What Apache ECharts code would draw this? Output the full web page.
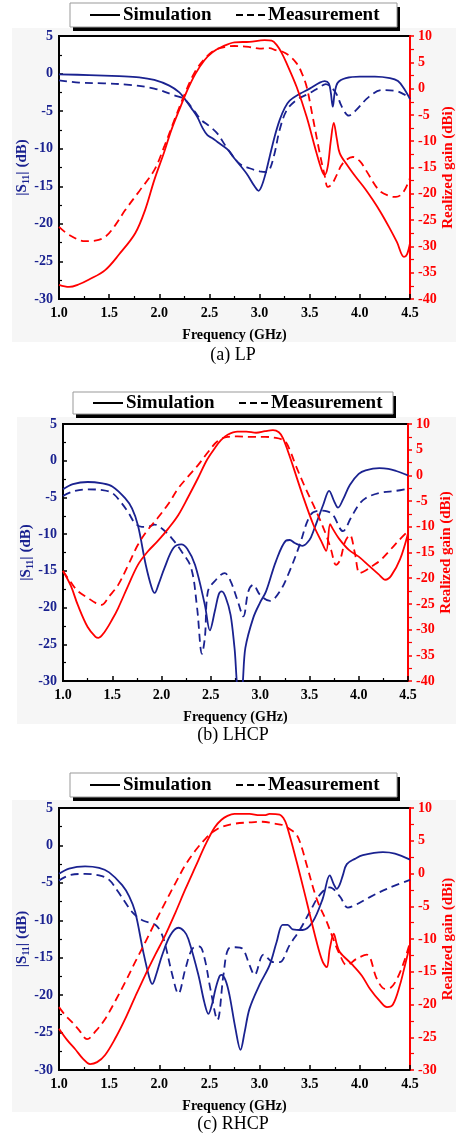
<!DOCTYPE html>
<html><head><meta charset="utf-8">
<script src="https://cdn.jsdelivr.net/npm/echarts@6/dist/echarts.min.js"></script>
<style>html,body{margin:0;padding:0;background:#fff}#c{width:456px;height:1137px}</style>
</head><body><div id="c"></div>
<script>
// ---------- data: [frequency GHz, value] ----------
const xTicks = [1.0,1.5,2.0,2.5,3.0,3.5,4.0,4.5];
const captions = ['(a) LP','(b) LHCP','(c) RHCP'];
const legendNames = ['Simulation','Measurement'];

// (a) LP
const aS11Sim = [[1.0,-0.1],[1.3,-0.2],[1.6,-0.35],[1.8,-0.5],[1.95,-0.85],[2.1,-1.6],[2.2,-2.5],[2.25,-3.3],[2.32,-4.6],[2.38,-5.8],[2.43,-7.2],[2.48,-8.2],[2.53,-8.6],[2.58,-9.1],[2.68,-10.1],[2.75,-11.3],[2.87,-13.3],[2.95,-15.0],[2.99,-15.6],[3.02,-15.0],[3.06,-13.3],[3.10,-11.1],[3.15,-8.4],[3.20,-6.2],[3.25,-4.6],[3.30,-3.6],[3.40,-2.7],[3.50,-2.0],[3.60,-1.2],[3.65,-1.0],[3.69,-1.3],[3.71,-2.5],[3.73,-4.4],[3.75,-2.5],[3.78,-1.2],[3.86,-0.6],[4.0,-0.4],[4.15,-0.4],[4.3,-0.6],[4.38,-1.0],[4.44,-2.0],[4.5,-3.4]];
const aS11Meas = [[1.0,-0.9],[1.2,-1.2],[1.45,-1.3],[1.7,-1.5],[1.95,-2.0],[2.15,-2.9],[2.25,-3.4],[2.35,-5.0],[2.42,-6.2],[2.5,-7.0],[2.58,-8.0],[2.67,-9.8],[2.8,-12.0],[2.9,-12.6],[3.0,-13.0],[3.07,-13.1],[3.10,-12.8],[3.15,-10.6],[3.20,-7.5],[3.27,-4.9],[3.37,-3.5],[3.50,-2.6],[3.60,-1.8],[3.66,-1.4],[3.72,-1.9],[3.77,-2.8],[3.82,-4.4],[3.89,-5.6],[3.96,-4.9],[4.09,-3.1],[4.22,-2.2],[4.36,-2.3],[4.43,-2.7],[4.5,-3.2]];
const aGainSim = [[1.0,-37.3],[1.1,-37.7],[1.2,-37.2],[1.3,-36.3],[1.46,-34.5],[1.6,-31.5],[1.76,-27.5],[1.86,-23],[1.95,-17.4],[2.05,-12],[2.12,-7.9],[2.2,-4.0],[2.28,-0.3],[2.36,2.8],[2.45,5.4],[2.53,6.9],[2.62,7.9],[2.75,8.8],[2.9,8.9],[3.05,9.2],[3.12,9.1],[3.17,8.3],[3.22,6.8],[3.27,4.8],[3.37,0.3],[3.47,-5.4],[3.56,-11.7],[3.62,-15.5],[3.65,-16.4],[3.68,-14.8],[3.71,-10],[3.74,-6.5],[3.77,-9.5],[3.80,-12.3],[3.88,-14.7],[3.96,-16.8],[4.05,-19.0],[4.13,-21.2],[4.21,-23.6],[4.29,-26.3],[4.37,-29.2],[4.44,-32.0],[4.47,-31.5],[4.5,-29.4]];
const aGainMeas = [[1.0,-26.3],[1.1,-27.8],[1.26,-29.0],[1.36,-28.9],[1.46,-28.2],[1.56,-26.0],[1.66,-23.1],[1.8,-19.5],[1.95,-15.5],[2.05,-11.0],[2.15,-6.0],[2.25,-1.2],[2.35,3.0],[2.45,5.6],[2.55,7.3],[2.65,7.9],[2.75,8.1],[2.9,7.9],[3.0,7.6],[3.1,7.7],[3.16,7.3],[3.23,7.0],[3.30,6.2],[3.37,4.8],[3.42,3.0],[3.47,0.3],[3.53,-5.4],[3.60,-12.3],[3.65,-16.6],[3.68,-18.7],[3.72,-18.2],[3.77,-16.4],[3.83,-14.2],[3.93,-13.0],[4.0,-13.8],[4.06,-15.5],[4.19,-19.3],[4.29,-20.4],[4.36,-20.6],[4.43,-19.8],[4.5,-17]];

// (b) LHCP
const bS11Sim = [[1.0,-3.9],[1.1,-3.2],[1.25,-2.9],[1.4,-3.1],[1.5,-3.5],[1.63,-5.1],[1.7,-6.5],[1.76,-8.8],[1.84,-14.2],[1.9,-17.3],[1.93,-18.0],[1.97,-16.8],[2.03,-14.6],[2.12,-11.9],[2.2,-11.4],[2.26,-12.0],[2.34,-14.2],[2.44,-19.7],[2.49,-23.1],[2.54,-20.5],[2.58,-18.2],[2.61,-17.8],[2.65,-18.6],[2.7,-21.0],[2.74,-25.5],[2.78,-31],[2.81,-31],[2.85,-25.5],[2.93,-21.4],[3.0,-19.3],[3.06,-17.8],[3.16,-13.7],[3.26,-10.9],[3.30,-10.8],[3.35,-11.2],[3.43,-11.6],[3.5,-10.8],[3.54,-9.6],[3.64,-6.0],[3.70,-4.1],[3.75,-5.5],[3.79,-6.4],[3.84,-5.3],[3.91,-3.3],[4.0,-1.8],[4.07,-1.3],[4.21,-1.0],[4.3,-1.1],[4.38,-1.4],[4.5,-2.0]];
const bS11Meas = [[1.0,-4.8],[1.1,-4.2],[1.25,-3.9],[1.4,-4.0],[1.5,-4.4],[1.59,-5.7],[1.66,-7.0],[1.73,-8.5],[1.8,-9.0],[1.86,-9.0],[1.93,-8.7],[2.0,-9.2],[2.1,-10.5],[2.2,-12.3],[2.3,-14.6],[2.36,-20],[2.41,-26.3],[2.44,-24],[2.47,-17.8],[2.54,-16.4],[2.64,-15.3],[2.70,-16.4],[2.77,-19.0],[2.83,-21.2],[2.88,-17.8],[2.93,-16.9],[3.0,-18.3],[3.1,-19.1],[3.2,-17.8],[3.3,-15.0],[3.4,-11.5],[3.51,-7.4],[3.61,-6.8],[3.68,-6.9],[3.74,-7.4],[3.84,-9.6],[3.92,-7.8],[4.0,-6.0],[4.07,-5.1],[4.21,-4.4],[4.38,-4.1],[4.5,-3.8]];
const bGainSim = [[1.0,-18.6],[1.08,-21.5],[1.15,-25.2],[1.25,-29.5],[1.33,-31.4],[1.36,-31.6],[1.42,-30.5],[1.5,-28],[1.56,-25.8],[1.66,-21.5],[1.76,-17.4],[1.86,-14.8],[1.96,-12.8],[2.07,-10.3],[2.17,-7.7],[2.27,-4.2],[2.37,-0.5],[2.46,3.0],[2.54,5.3],[2.6,6.8],[2.67,7.9],[2.77,8.5],[2.86,8.5],[2.96,8.3],[3.05,8.6],[3.13,8.8],[3.19,8.4],[3.23,7.3],[3.28,4.8],[3.33,2.0],[3.43,-3.8],[3.54,-9.6],[3.62,-12.8],[3.67,-14.7],[3.71,-9.5],[3.74,-10.5],[3.8,-12.3],[3.9,-14.5],[4.0,-15.8],[4.1,-17.5],[4.2,-19.2],[4.27,-20.3],[4.33,-19.5],[4.42,-16.3],[4.5,-11.3]];
const bGainMeas = [[1.0,-18.6],[1.08,-20.8],[1.15,-22.5],[1.25,-23.8],[1.33,-24.8],[1.39,-25.2],[1.47,-23.5],[1.56,-21.3],[1.66,-17.5],[1.76,-13.5],[1.86,-10.6],[1.96,-8.3],[2.07,-5.5],[2.17,-2.5],[2.27,-0.2],[2.37,2.0],[2.47,4.5],[2.57,6.7],[2.67,7.5],[2.77,7.6],[2.9,7.5],[3.05,7.5],[3.16,7.3],[3.22,7.0],[3.26,6.5],[3.31,4.5],[3.36,2.0],[3.46,-2.5],[3.57,-7.0],[3.67,-11.6],[3.72,-14.5],[3.77,-17.4],[3.81,-16.5],[3.86,-13],[3.91,-11.6],[3.96,-15],[4.01,-19.0],[4.07,-18.5],[4.14,-17.6],[4.22,-16.5],[4.31,-14.7],[4.4,-12.8],[4.5,-10.8]];

// (c) RHCP
const cS11Sim = [[1.0,-3.8],[1.1,-3.1],[1.26,-2.8],[1.4,-3.0],[1.5,-3.6],[1.63,-5.3],[1.7,-6.8],[1.76,-8.9],[1.84,-14.2],[1.9,-17.6],[1.93,-18.5],[1.97,-17.2],[2.03,-14.6],[2.11,-12.0],[2.19,-11.0],[2.25,-11.5],[2.29,-12.5],[2.39,-17.3],[2.45,-21.0],[2.49,-22.5],[2.53,-21],[2.56,-19.2],[2.6,-17.5],[2.62,-17.3],[2.66,-18],[2.7,-20],[2.76,-24.5],[2.81,-27.3],[2.85,-25.0],[2.9,-21.8],[3.0,-18.6],[3.1,-16.0],[3.17,-12.9],[3.23,-10.6],[3.28,-10.6],[3.33,-11.2],[3.43,-11.3],[3.53,-10.2],[3.63,-7.1],[3.70,-4.0],[3.74,-5.2],[3.77,-5.8],[3.80,-5.2],[3.83,-4.0],[3.87,-2.5],[3.95,-1.8],[4.03,-1.3],[4.23,-0.9],[4.35,-1.1],[4.5,-1.9]];
const cS11Meas = [[1.0,-4.7],[1.1,-4.0],[1.26,-3.8],[1.4,-4.0],[1.5,-4.6],[1.59,-6.2],[1.66,-7.6],[1.73,-8.9],[1.83,-10.0],[1.96,-10.6],[2.02,-11.7],[2.06,-13.3],[2.13,-17.3],[2.19,-19.8],[2.26,-16.5],[2.33,-13.8],[2.40,-13.5],[2.45,-15],[2.51,-19.2],[2.58,-23.3],[2.64,-17.3],[2.69,-13.8],[2.76,-13.6],[2.83,-13.8],[2.90,-16.0],[2.95,-17.3],[3.04,-14.6],[3.14,-15.6],[3.20,-15.6],[3.30,-13.3],[3.40,-11.3],[3.50,-8.9],[3.60,-6.6],[3.70,-5.6],[3.80,-6.8],[3.88,-8.3],[3.95,-8.0],[4.10,-6.9],[4.27,-5.8],[4.5,-4.6]];
const cGainSim = [[1.0,-23.7],[1.08,-25.4],[1.16,-26.8],[1.24,-28.3],[1.31,-29.1],[1.38,-28.8],[1.46,-27.7],[1.56,-25.2],[1.66,-22.2],[1.76,-18.8],[1.86,-15.5],[1.96,-12.4],[2.06,-9.4],[2.16,-6.0],[2.26,-2.4],[2.36,1.0],[2.46,4.4],[2.55,7.0],[2.62,8.2],[2.68,8.8],[2.75,9.1],[2.9,9.1],[3.0,8.9],[3.05,8.9],[3.1,9.1],[3.2,9.0],[3.24,8.4],[3.27,7.4],[3.37,1.8],[3.47,-4.3],[3.57,-10.5],[3.63,-13.5],[3.67,-14.3],[3.70,-11.5],[3.74,-9.2],[3.77,-10.8],[3.80,-12.0],[3.93,-14.0],[4.02,-15.6],[4.10,-17.6],[4.2,-19.5],[4.27,-20.4],[4.33,-20.0],[4.4,-17.0],[4.45,-14.0],[4.5,-10.9]];
const cGainMeas = [[1.0,-20.4],[1.06,-21.6],[1.13,-22.7],[1.2,-23.9],[1.28,-25.3],[1.37,-24.0],[1.46,-22.2],[1.56,-19.5],[1.66,-16.6],[1.76,-13.5],[1.86,-10.5],[1.96,-7.4],[2.06,-4.4],[2.16,-1.5],[2.26,1.3],[2.36,3.5],[2.46,5.3],[2.54,6.4],[2.62,7.1],[2.75,7.6],[2.9,7.8],[3.03,7.9],[3.15,7.6],[3.23,7.4],[3.30,6.8],[3.37,5.9],[3.42,4.0],[3.47,1.3],[3.57,-3.9],[3.67,-7.4],[3.73,-9.8],[3.80,-12.4],[3.87,-14.0],[3.97,-13.0],[4.07,-12.4],[4.17,-16.1],[4.25,-17.6],[4.31,-17.4],[4.37,-16.1],[4.44,-13.5],[4.5,-10.5]];

const leftRange = [-30, 5];
const rightRanges = [[-40, 10], [-40, 10], [-30, 10]];

// ---------- layout ----------
const NAVY = '#1a2290', RED = '#ff0000';
const SERIF = '"Liberation Serif","DejaVu Serif",serif';
const panels = [
  {left:59, right:46, top:36, height:263, bg:[12,28,444,314], box:[70,3,327,24], cap:355,
   data:[aS11Sim,aS11Meas,aGainSim,aGainMeas]},
  {left:63, right:48, top:424, height:257, bg:[17,417,439,307], box:[73,392,320,22], cap:735,
   data:[bS11Sim,bS11Meas,bGainSim,bGainMeas]},
  {left:59, right:46, top:808, height:262, bg:[12,800,444,312], box:[70,773,327,24], cap:1124,
   data:[cS11Sim,cS11Meas,cGainSim,cGainMeas]}
];

const grid=[], xAxis=[], yAxis=[], series=[], graphic=[];
panels.forEach((p,i)=>{
  grid.push({left:p.left, right:p.right, top:p.top, height:p.height, show:true,
    containLabel:false, outerBoundsMode:'none',
    backgroundColor:'#fff', borderColor:'#000', borderWidth:2});
  xAxis.push({gridIndex:i, type:'value', min:xTicks[0], max:xTicks[xTicks.length-1], interval:0.5,
    axisLine:{onZero:false, lineStyle:{color:'#000', width:2}},
    axisTick:{inside:true, length:5, lineStyle:{color:'#000', width:1.5}},
    minorTick:{show:true, splitNumber:2, length:3, lineStyle:{color:'#000', width:1.2}},
    splitLine:{show:false},
    axisLabel:{formatter:v=>v.toFixed(1), color:'#000', fontFamily:SERIF, fontWeight:'bold', fontSize:14, margin:7},
    name:'Frequency (GHz)', nameLocation:'middle', nameGap:29, nameMoveOverlap:false,
    nameTextStyle:{color:'#000', fontFamily:SERIF, fontWeight:'bold', fontSize:14}});
  yAxis.push({gridIndex:i, type:'value', position:'left', min:leftRange[0], max:leftRange[1], interval:5,
    axisLine:{show:true, onZero:false, lineStyle:{color:'#000', width:2}},
    axisTick:{show:true, inside:true, length:4, lineStyle:{color:'#000', width:1.5}},
    minorTick:{show:true, splitNumber:2, length:3, lineStyle:{color:'#000', width:1.2}},
    splitLine:{show:false},
    axisLabel:{color:NAVY, fontFamily:SERIF, fontWeight:'bold', fontSize:14, margin:6},
    name:'|S{s|11}| (dB)', nameLocation:'middle', nameGap:28, nameMoveOverlap:false,
    nameTextStyle:{color:NAVY, fontFamily:SERIF, fontWeight:'bold', fontSize:15,
      rich:{s:{fontSize:10, fontFamily:SERIF, fontWeight:'bold', color:NAVY, padding:[8,0,0,0]}}}});
  const rr = rightRanges[i];
  yAxis.push({gridIndex:i, type:'value', position:'right', min:rr[0], max:rr[1], interval:5,
    axisLine:{show:true, onZero:false, lineStyle:{color:RED, width:2}},
    axisTick:{show:true, inside:false, length:4, lineStyle:{color:RED, width:1.5}},
    minorTick:{show:true, splitNumber:2, length:4, lineStyle:{color:RED, width:1.2}},
    splitLine:{show:false},
    axisLabel:{color:RED, fontFamily:SERIF, fontWeight:'bold', fontSize:14, margin:8},
    name:'Realized gain (dBi)', nameLocation:'middle', nameGap:31, nameMoveOverlap:false,
    nameTextStyle:{color:RED, fontFamily:SERIF, fontWeight:'bold', fontSize:15}});
  const cols=[NAVY,NAVY,RED,RED];
  p.data.forEach((d,k)=>{
    series.push({type:'line', xAxisIndex:i, yAxisIndex:2*i+(k<2?0:1), data:d, showSymbol:false,
      smooth:0.35, clip:true, silent:true, z:k<2?3:4,
      lineStyle:{color:cols[k], width:1.8, type:(k%2===1)?[8,5]:'solid'}});
  });
  // faint panel background
  graphic.push({type:'rect', shape:{x:p.bg[0], y:p.bg[1], width:p.bg[2], height:p.bg[3]},
    style:{fill:'#f6f6f6'}, z:-10, silent:true});
  // legend box with shadow
  const b=p.box, cy=b[1]+b[3]/2;
  graphic.push({type:'rect', shape:{x:b[0]+3, y:b[1]+4, width:b[2], height:b[3]}, style:{fill:'#000'}, z:10});
  graphic.push({type:'rect', shape:{x:b[0], y:b[1], width:b[2], height:b[3]}, style:{fill:'#fff', stroke:'#999', lineWidth:1}, z:11});
  graphic.push({type:'line', shape:{x1:b[0]+20, y1:cy, x2:b[0]+50, y2:cy}, style:{stroke:'#000', lineWidth:2}, z:12});
  graphic.push({type:'text', x:b[0]+53, y:cy, style:{text:legendNames[0], fill:'#000', font:'bold 19px '+SERIF, textVerticalAlign:'middle', verticalAlign:'middle'}, z:12});
  graphic.push({type:'line', shape:{x1:b[0]+166, y1:cy, x2:b[0]+195, y2:cy}, style:{stroke:'#000', lineWidth:2, lineDash:[7,4]}, z:12});
  graphic.push({type:'text', x:b[0]+198, y:cy, style:{text:legendNames[1], fill:'#000', font:'bold 19px '+SERIF, textVerticalAlign:'middle', verticalAlign:'middle'}, z:12});
  // caption
  graphic.push({type:'text', x:233, y:p.cap, style:{text:captions[i], fill:'#000', font:'18px '+SERIF, align:'center', verticalAlign:'middle', textAlign:'center', textVerticalAlign:'middle'}, z:12});
});

const chart = echarts.init(document.getElementById('c'), null, {renderer:'canvas'});
chart.setOption({animation:false, backgroundColor:'#fff', grid, xAxis, yAxis, series, graphic});
</script></body></html>
